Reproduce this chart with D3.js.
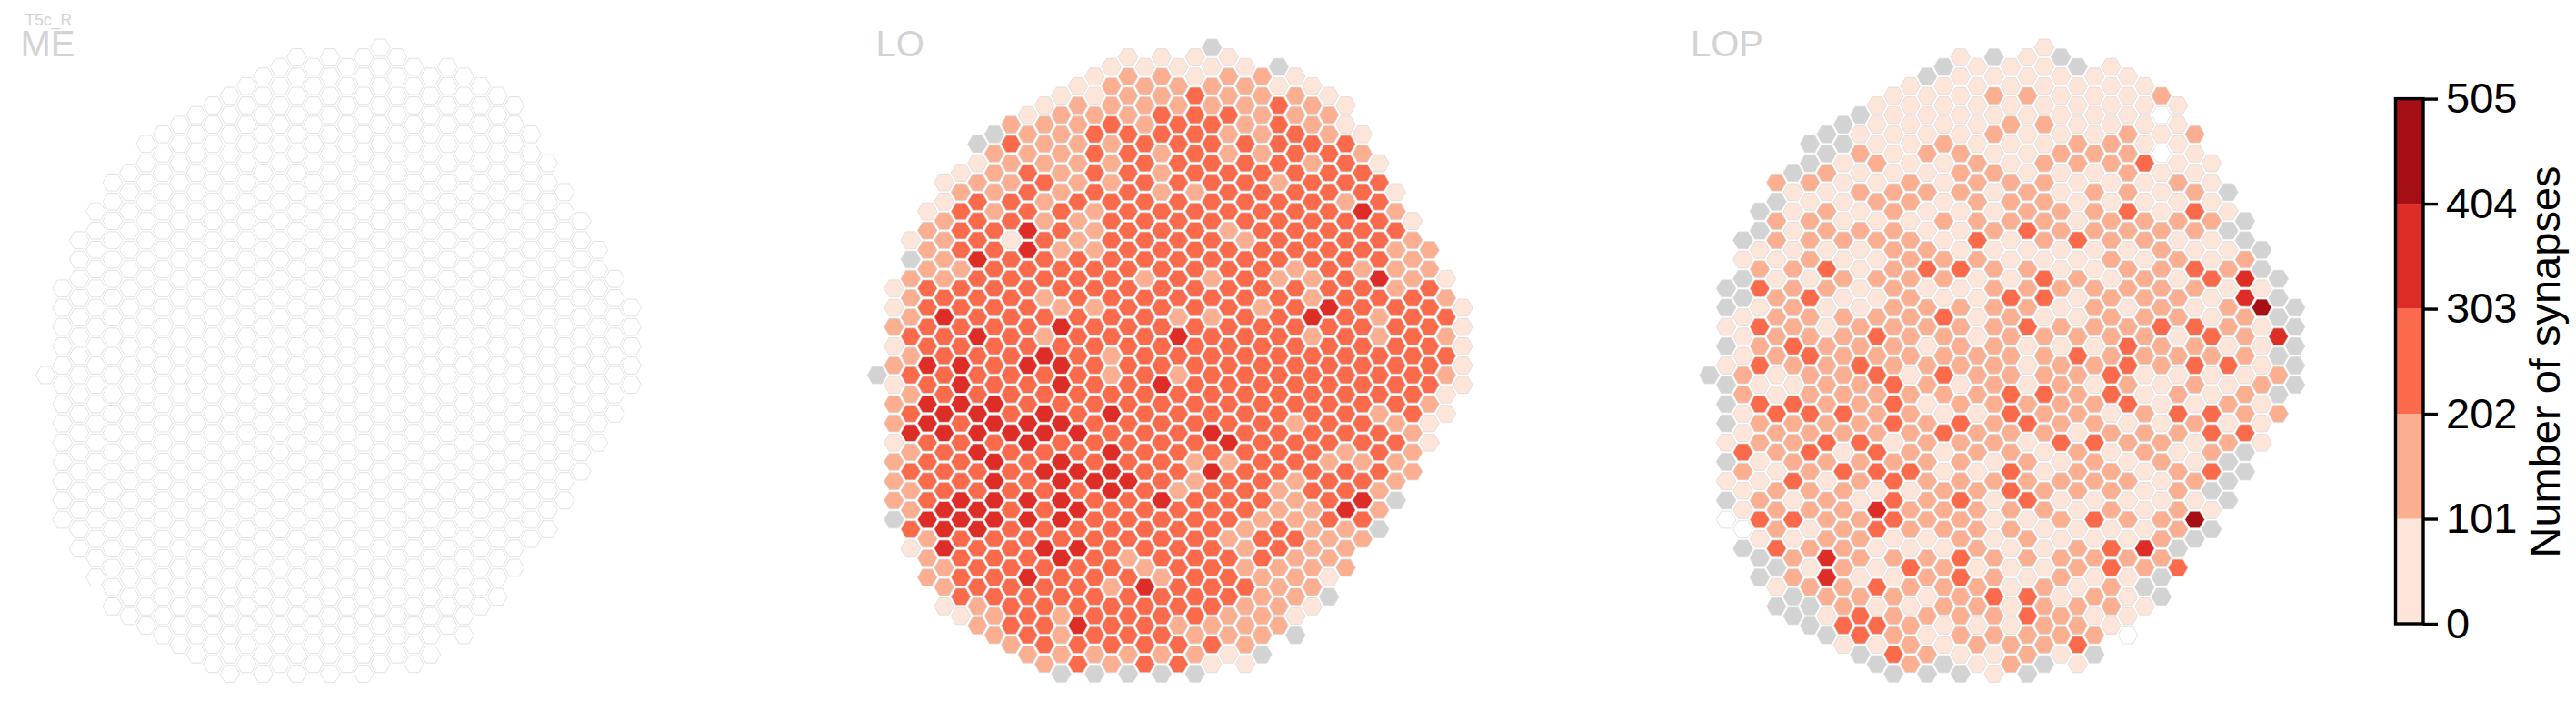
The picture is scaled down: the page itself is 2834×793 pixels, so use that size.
<!DOCTYPE html>
<html><head><meta charset="utf-8">
<script src="https://cdn.jsdelivr.net/npm/d3@7/dist/d3.min.js"></script>
<style>html,body{margin:0;padding:0;background:#fff}svg{display:block}text{font-family:"Liberation Sans",Arial,sans-serif}</style>
</head><body><svg id="c" width="2834" height="793"></svg>
<script>
// Top half-row index of every hexagon column (same lattice in all neuropils)
const columnTops = [33,24,19,16,13,12,9,8,7,6,5,4,3,2,1,0,1,0,1,0,-1,0,1,2,1,2,3,4,5,8,11,14,17,20,23,26];
// Bin per hexagon, top to bottom: 0 = no data (grey), w = zero synapses (white), 1..5 = colourbar bins
const loColumns = [
"0","1121212212220","10222323234232231","12223333434433334222","11222234333344333444221",
"123332333344433334433331","01233343334333444334433322","022223333333334434444333322",
"2322331333333333433333333332","12233344333334334433443343332","122232233323243344343334333332",
"1222223323324344343444434332220","1222223223333333334343434333433","11233332223323333333343333333320",
"12232223333333322343444333323332","122233333333333333333343332333320","12223333333233333333333333243333",
"122332223333333334333334333233320","12233333333332432333332333333233","113333323333333333333223333333220",
"012233333333232333334343333333231","12232233323333333333423332333221","12223333323333333333333322232221",
"2222233333332333333333323322220","013333233332333333333322332222","122333333323333333233222322210",
"1223233333224233333333222221","122333333334333333323332210","1133323333333333332334222",
"1233433233333333323432","13333343223332333220","12322233333323220","12223333333222","22333333211","12323211","11111"];
const lopColumns = [
"0","001010001010w","010011122113211w0","00123132313221123100","20221122221132212223010",
"011112222321322231312200","00212221322322323222121200","002122132112222232122244210",
"0011112121222223213222222231","01212121111223222322122212330","111212121212323222331431131310",
"1111122222222223331233312122230","1111122122222221222231221321222","01112121123122122122222212212120",
"01112111212213223213112221222110","111112221113122221232223223322210","11111222232111122212212222122121",
"012121211212222222222121112232211","11121122211132222332233221111122","112111122312223111231223122133220",
"111121222221331222322112211122220","01111211221121212222312121221221","01112211131211232221222112212231",
"1111212221122212122322131212120","111122112221222233121222133221","11122223212212332312121212111w",
"1111311221222221122211114201","2w1w11122222322111221122200","1111212121221212321222203",
"2112321321323212112150","11121131132113323010","01012122131212000","00244222122300","00151112111","00040202","00000"];
// The medulla panel shows every column empty
const meColumns = loColumns.map(c => "w".repeat(c.length));
const panelNames = ["ME","LO","LOP"];
const panelData = [meColumns, loColumns, lopColumns];
const panelLeft = [50.3, 965, 1880.7];
const panelLabelX = [22.5, 963.5, 1860];
const neuronType = "T5c_R";
const binTicks = [0,101,202,303,404,505];
const binLevels = ["1","2","3","4","5"];
const binColors = ["#fee5d9","#fcae91","#fb6a4a","#de2d26","#a50f15"];
const barLabel = "Number of synapses";

const svg = d3.select("#c");
const levelColor = d3.scaleOrdinal().domain(["0","w",...binLevels]).range(["#d3d3d3","#ffffff",...binColors]);
const colScale = d3.scaleLinear().domain([0,35]);
const rowScale = d3.scaleLinear().domain([0,64]).range([63,741]);
const R = 10.8;
const hexPath = d3.line()(d3.range(6).map(i => [R*Math.cos(i*Math.PI/3), R*Math.sin(i*Math.PI/3)])) + "Z";

panelData.forEach((cols,p) => {
  const x = colScale.copy().range([panelLeft[p], panelLeft[p]+35*18.41]);
  const cells = cols.flatMap((s,c) => Array.from(s, (lvl,i) => ({c, q: columnTops[c]+2*i, lvl})));
  const g = svg.append("g");
  g.selectAll("path").data(cells).join("path")
    .attr("d", hexPath)
    .attr("transform", d => `translate(${x(d.c)},${rowScale(d.q)})`)
    .attr("fill", d => levelColor(d.lvl))
    .attr("stroke", "#dadada")
    .attr("stroke-width", 0.8);
  svg.append("text").attr("x", panelLabelX[p]).attr("y", 62).attr("font-size", 40).attr("fill", "#d3d3d3").text(panelNames[p]);
});
svg.append("text").attr("x", 27.5).attr("y", 28).attr("font-size", 17.5).attr("fill", "#d3d3d3").text(neuronType);

// Colourbar
const barY = d3.scaleLinear().domain([0,505]).range([686,108.6]);
const barX0 = 2635.5, barX1 = 2666;
const bar = svg.append("g");
bar.selectAll("rect").data(binColors).join("rect")
  .attr("x", barX0).attr("width", barX1-barX0)
  .attr("y", (d,i) => barY(binTicks[i+1]))
  .attr("height", (d,i) => barY(binTicks[i]) - barY(binTicks[i+1]))
  .attr("fill", d => d);
bar.append("rect").attr("x", barX0).attr("y", barY(505)).attr("width", barX1-barX0).attr("height", barY(0)-barY(505))
  .attr("fill","none").attr("stroke","#000").attr("stroke-width",3.4);
const axis = svg.append("g").attr("transform", `translate(${barX1},0)`)
  .call(d3.axisRight(barY).tickValues(binTicks).tickSize(16).tickPadding(9));
axis.select(".domain").remove();
axis.selectAll("line").attr("stroke","#000").attr("stroke-width",3.4);
axis.selectAll("text").attr("font-size",47).attr("fill","#000").attr("font-family",'"Liberation Sans"');
svg.append("text").attr("transform","translate(2816,398) rotate(-90)").attr("text-anchor","middle")
  .attr("font-size",47).attr("fill","#000").text(barLabel);
</script></body></html>
